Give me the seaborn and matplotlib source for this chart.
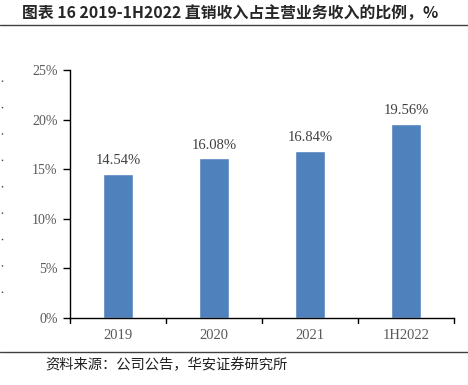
import matplotlib
matplotlib.use("Agg")
import seaborn as sns
from matplotlib import pyplot as plt
from matplotlib.lines import Line2D

categories = ["2019", "2020", "2021", "1H2022"]
values = [14.54, 16.08, 16.84, 19.56]
yticks = [0, 5, 10, 15, 20, 25]

sns.set_style("white")
plt.rcParams["font.family"] = ["Liberation Serif", "Noto Sans CJK SC"]

fig = plt.figure(figsize=(4.68, 3.85), dpi=100)
ax = fig.add_axes([70 / 468, 1 - 318 / 385, 384 / 468, 248 / 385])

sns.barplot(x=categories, y=values, color="#4F81BD", width=0.31, saturation=1, ax=ax)

ax.set_ylim(0, 25)
ax.set_xlim(-0.5, len(categories) - 0.5)
ax.set_yticks(yticks)
ax.set_yticklabels([f"{t}%" for t in yticks], fontsize=10, color="#595959")
ax.set_xlabel("")
ax.set_ylabel("")
ax.tick_params(axis="x", length=0, pad=8, labelsize=10.5, labelcolor="#595959")
ax.tick_params(axis="y", length=5, width=1, direction="out", left=True, color="black", pad=4)

# category boundary ticks on the x axis
for b in [i - 0.5 for i in range(len(categories) + 1)]:
    ax.plot([b, b], [0, -0.5], color="black", lw=1, clip_on=False)

for s in ["top", "right"]:
    ax.spines[s].set_visible(False)
for s in ["left", "bottom"]:
    ax.spines[s].set_color("black")
    ax.spines[s].set_linewidth(1)

for i, v in enumerate(values):
    ax.text(i, v + 1.0, f"{v:.2f}%", ha="center", va="baseline", fontsize=10.5, color="#404040")

fig.text(22 / 468, 1 - 14 / 385, "图表 16 2019-1H2022 直销收入占主营业务收入的比例，%",
         fontsize=11.4, fontweight="bold", family=["Noto Sans CJK SC"], va="center", ha="left")
fig.add_artist(Line2D([0, 1], [1 - 24.5 / 385, 1 - 24.5 / 385], color="#404040", lw=1))
fig.add_artist(Line2D([0, 1], [1 - 352 / 385, 1 - 352 / 385], color="#404040", lw=1))
fig.add_artist(Line2D([1.5 / 468, 1.5 / 468], [1 - 80 / 385, 1 - 300 / 385], color="#404040",
                      lw=1, linestyle=(0, (1, 18))))
fig.text(45 / 468, 1 - 365 / 385, "资料来源：公司公告，华安证券研究所",
         fontsize=10.3, family=["Noto Sans CJK SC"], va="center", ha="left", color="#202020")

fig.savefig("out.png", dpi=100)
